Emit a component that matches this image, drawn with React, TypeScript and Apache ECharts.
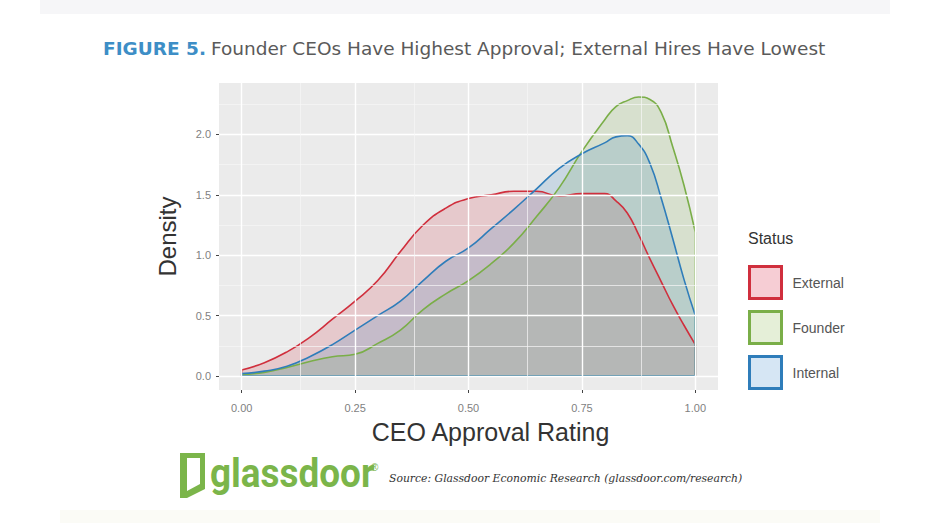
import React, { useEffect, useRef } from "react";
import * as echarts from "echarts";

const xs = [0, 0.05, 0.1, 0.15, 0.2, 0.25, 0.3, 0.35, 0.4, 0.45, 0.5, 0.55, 0.6, 0.65, 0.7, 0.75, 0.8, 0.825, 0.85, 0.875, 0.9, 0.925, 0.95, 0.975, 1.0];
const external = [0.05, 0.11, 0.2, 0.32, 0.47, 0.62, 0.79, 1.03, 1.25, 1.39, 1.47, 1.5, 1.53, 1.53, 1.49, 1.51, 1.51, 1.45, 1.35, 1.17, 0.97, 0.78, 0.59, 0.42, 0.26];
const founder = [0.01, 0.03, 0.07, 0.12, 0.16, 0.18, 0.27, 0.38, 0.55, 0.68, 0.79, 0.93, 1.1, 1.32, 1.56, 1.86, 2.12, 2.23, 2.28, 2.31, 2.29, 2.18, 1.9, 1.58, 1.19];
const internal = [0.02, 0.04, 0.08, 0.16, 0.26, 0.38, 0.5, 0.62, 0.79, 0.95, 1.06, 1.22, 1.38, 1.55, 1.72, 1.84, 1.93, 1.98, 1.99, 1.92, 1.76, 1.47, 1.14, 0.8, 0.5];

const statusNames = ["External", "Founder", "Internal"];
const statusValues = [external, founder, internal];
const lineColors = ["#D02F3D", "#7AAE48", "#2F7DBA"];
const legendFills = ["#F6CDD4", "#E5EFD8", "#D6E6F4"];

const yTicks = [0, 0.5, 1.0, 1.5, 2.0];
const yMinor = [0.25, 0.75, 1.25, 1.75, 2.25];
const xTicks = [0, 0.25, 0.5, 0.75, 1.0];
const xMinor = [0.125, 0.375, 0.625, 0.875];

const titleLead = "FIGURE 5.";
const titleRest = "Founder CEOs Have Highest Approval; External Hires Have Lowest";
const xName = "CEO Approval Rating";
const yName = "Density";
const legendTitle = "Status";
const sourceText = "Source: Glassdoor Economic Research (glassdoor.com/research)";

const DOOR = "M0 0 L25 0 L25 36 L7 45 L0 45 Z M7 5 L7 38 L20 31 L20 5 Z";

let registered = false;
function registerShapes() {
  if (registered) return;
  registered = true;
  echarts.graphic.registerShape("door", echarts.graphic.extendPath(DOOR, {}) as any);
}

function hexToRgba(hex: string, a: number) {
  const n = parseInt(hex.slice(1), 16);
  return `rgba(${(n >> 16) & 255},${(n >> 8) & 255},${n & 255},${a})`;
}

export default function App() {
  const ref = useRef<HTMLDivElement>(null);
  useEffect(() => {
    if (!ref.current) return;
    registerShapes();
    const chart = echarts.init(ref.current, null, { renderer: "svg" });

    const gridLines: any[] = [
      ...yTicks.map((v) => ({ yAxis: v, lineStyle: { color: "#FFFFFF", width: 1.4, type: "solid" } })),
      ...yMinor.map((v) => ({ yAxis: v, lineStyle: { color: "#F7F7F7", width: 0.7, type: "solid" } })),
      ...xTicks.map((v) => ({ xAxis: v, lineStyle: { color: "#FFFFFF", width: 1.4, type: "solid" } })),
      ...xMinor.map((v) => ({ xAxis: v, lineStyle: { color: "#F7F7F7", width: 0.7, type: "solid" } })),
    ];

    const series: any[] = [
      {
        name: "grid",
        type: "line",
        data: [[0, 0]],
        symbol: "none",
        lineStyle: { opacity: 0 },
        silent: true,
        z: 1,
        markLine: {
          silent: true,
          symbol: ["none", "none"],
          label: { show: false },
          emphasis: { disabled: true },
          data: gridLines,
        },
      },
    ];

    statusNames.forEach((name, i) => {
      const vals = statusValues[i];
      series.push({
        name,
        type: "line",
        smooth: 0.5,
        symbol: "none",
        z: 3,
        data: xs.map((x, j) => [x, vals[j]]),
        lineStyle: { color: lineColors[i], width: 1.6 },
        itemStyle: { color: lineColors[i] },
        areaStyle: { color: hexToRgba(lineColors[i], 0.25) },
      });
      series.push({
        name: name + " outline",
        type: "line",
        symbol: "none",
        z: 3,
        data: [
          [xs[xs.length - 1], vals[vals.length - 1]],
          [xs[xs.length - 1], 0],
          [xs[0], 0],
          [xs[0], vals[0]],
        ],
        lineStyle: { color: lineColors[i], width: 1.6 },
        itemStyle: { color: lineColors[i] },
      });
    });

    const option: any = {
      animation: false,
      backgroundColor: "#FFFFFF",
      title: {
        text: `{a|${titleLead}} {b|${titleRest}}`,
        left: 98,
        top: 34,
        textStyle: {
          fontWeight: "normal",
          rich: {
            a: { fontFamily: "DejaVu Sans", fontWeight: "bold", fontSize: 18.5, color: "#3D8EC6" },
            b: { fontFamily: "DejaVu Sans", fontWeight: "normal", fontSize: 18.5, color: "#5A5A5A" },
          },
        },
      },
      grid: {
        left: 219,
        top: 83,
        width: 499,
        height: 307,
        show: true,
        backgroundColor: "#EBEBEB",
        borderWidth: 0,
        containLabel: false,
      },
      legend: {
        orient: "vertical",
        left: 748,
        top: 265,
        padding: 0,
        itemWidth: 32,
        itemHeight: 32,
        itemGap: 10,
        selectedMode: false,
        icon: "rect",
        data: statusNames.map((n, i) => ({
          name: n,
          icon: "rect",
          itemStyle: { color: legendFills[i], borderColor: lineColors[i], borderWidth: 3 },
        })),
        textStyle: { fontFamily: "Liberation Sans", fontSize: 14, color: "#555555", padding: [0, 0, 0, 6] },
      },
      xAxis: {
        type: "value",
        min: -0.05,
        max: 1.05,
        name: xName,
        nameLocation: "middle",
        nameGap: 29,
        nameTextStyle: { fontFamily: "Liberation Sans", fontSize: 25, color: "#333333", padding: [0, 0, 0, 44] },
        axisLine: { show: false, onZero: false },
        splitLine: { show: false },
        axisTick: { show: true, length: 3, customValues: xTicks, lineStyle: { color: "#444444" } },
        axisLabel: {
          customValues: xTicks,
          margin: 12,
          fontFamily: "Liberation Sans",
          fontSize: 11,
          color: "#7F7F7F",
          formatter: (v: number) => v.toFixed(2),
        },
      },
      yAxis: {
        type: "value",
        min: -0.116,
        max: 2.426,
        name: yName,
        nameLocation: "middle",
        nameRotate: 90,
        nameGap: 40,
        nameTextStyle: { fontFamily: "Liberation Sans", fontSize: 24, color: "#333333" },
        axisLine: { show: false, onZero: false },
        splitLine: { show: false },
        axisTick: { show: true, length: 3, customValues: yTicks, lineStyle: { color: "#444444" } },
        axisLabel: {
          customValues: yTicks,
          margin: 8,
          fontFamily: "Liberation Sans",
          fontSize: 11,
          color: "#7F7F7F",
          formatter: (v: number) => v.toFixed(1),
        },
      },
      graphic: [
        { type: "rect", silent: true, shape: { x: 40, y: 0, width: 850, height: 14 }, style: { fill: "#F6F6F8" }, z: -10 },
        { type: "rect", silent: true, shape: { x: 60, y: 510, width: 820, height: 13 }, style: { fill: "#FBFBF6" }, z: -10 },
        {
          type: "text",
          left: 748,
          top: 230,
          style: { text: legendTitle, fontFamily: "Liberation Sans", fontSize: 16, fill: "#333333" },
        },
        { type: "door", x: 180, y: 453, style: { fill: "#7BB54A" } },
        {
          type: "text",
          x: 210,
          y: 473,
          scaleX: 0.9,
          style: {
            text: "glassdoor",
            fontFamily: "Roboto",
            fontWeight: "bold",
            fontSize: 41,
            fill: "#7BB54A",
            verticalAlign: "middle",
          },
        },
        {
          type: "text",
          x: 371,
          y: 467,
          style: { text: "®", fontFamily: "Liberation Sans", fontSize: 10, fill: "#7BB54A", verticalAlign: "middle" },
        },
        {
          type: "text",
          x: 389,
          y: 478,
          style: {
            text: sourceText,
            fontFamily: "DejaVu Serif",
            fontStyle: "italic",
            fontSize: 10.8,
            fill: "#333333",
            verticalAlign: "middle",
          },
        },
      ],
      series,
    };
    chart.setOption(option);
    return () => chart.dispose();
  }, []);
  return <div ref={ref} style={{ position: "absolute", left: 0, top: 0, width: 931, height: 523 }} />;
}
